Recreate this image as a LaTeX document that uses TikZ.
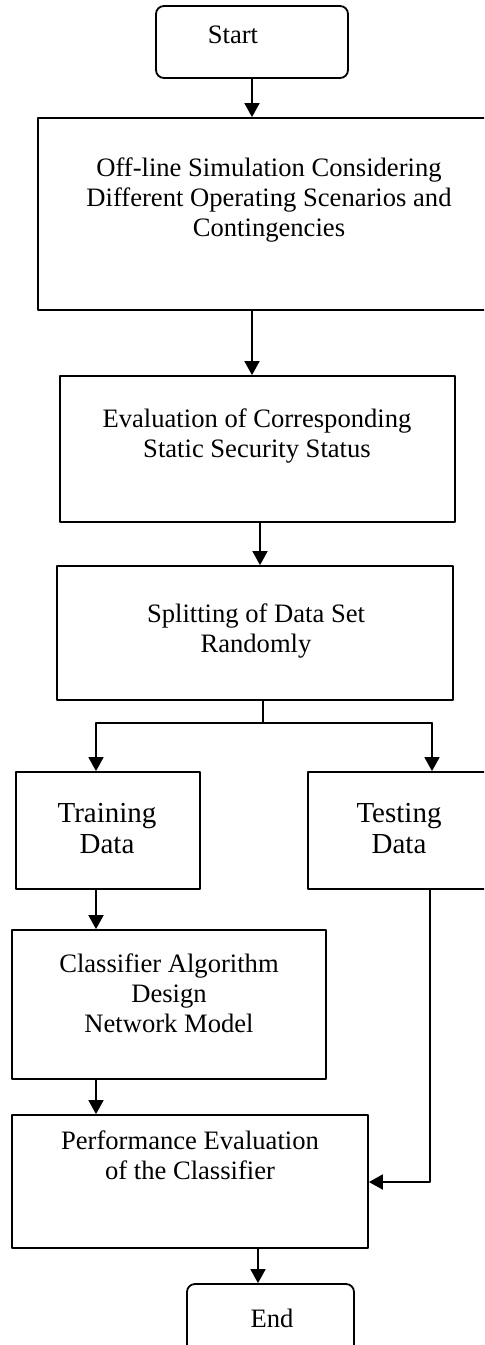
\documentclass[tikz,border=0pt]{standalone}
\usepackage{fontspec}
\setmainfont{Liberation Serif}
\usetikzlibrary{arrows.meta}

\tikzset{
  block/.style={draw, line width=0.9pt, inner sep=0pt},
  term/.style={block, rounded corners=4pt},
  lbl/.style={inner sep=0pt, align=center, font=\fontsize{13.3pt}{15pt}\selectfont},
  biglbl/.style={lbl, font=\fontsize{14.5pt}{15.5pt}\selectfont},
  wire/.style={line width=0.9pt},
  flow/.style={wire, -{Triangle[length=7pt, width=7.5pt]}}
}

\begin{document}
\begin{tikzpicture}[line cap=round,line join=round,x=0.5pt,y=-0.5pt]
\useasboundingbox (0,0) rectangle (484,1345);
\clip (0,0) rectangle (484,1345);
% boxes
\node[term, minimum width=96pt, minimum height=36pt] (start) at (252,42) {};
\node[block, minimum width=231pt, minimum height=96pt] (sim) at (269,214) {};
\node[block, minimum width=197.5pt, minimum height=73pt] (eval) at (257.5,449) {};
\node[block, minimum width=198pt, minimum height=67pt] (split) at (255,633) {};
\node[block, minimum width=92pt, minimum height=58.5pt] (train) at (108,830.5) {};
\node[block, minimum width=91pt, minimum height=58.5pt] (test) at (399,830.5) {};
\node[block, minimum width=157pt, minimum height=74.5pt] (design) at (169,1004.5) {};
\node[block, minimum width=178pt, minimum height=66.5pt] (perf) at (190,1181.5) {};
\node[term, minimum width=83.5pt, minimum height=36pt] (end) at (270.5,1320) {};
% texts
\node[lbl] (starttxt) at (233,35) {Start};
\node[lbl] (simtxt) at (269,200) {Off-line Simulation Considering\\Different Operating Scenarios and\\Contingencies};
\node[lbl] (evaltxt) at (257,436) {Evaluation of Corresponding\\Static Security Status};
\node[lbl] (splittxt) at (256,631) {Splitting of Data Set\\Randomly};
\node[biglbl] (traintxt) at (107,829) {Training\\Data};
\node[biglbl] (testtxt) at (399,829) {Testing\\Data};
\node[lbl] (designtxt) at (169,993) {Classifier Algorithm\\Design\\Network Model};
\node[lbl] (perftxt) at (190,1155) {Performance Evaluation\\of the Classifier};
\node[lbl] (endtxt) at (272,1318) {End};
% routing points
\coordinate (fork) at (263,723);
\coordinate (lft) at (96,723);
\coordinate (rgt) at (432,723);
\coordinate (back) at (430,1182);
\coordinate (drop) at (258,1300);
% connectors
\draw[flow] (start.south) -- (start.south |- sim.north);
\draw[flow] (sim.south -| start.south) -- (start.south |- eval.north);
\draw[flow] ([xshift=1.25pt]eval.south) -- ([xshift=1.25pt]eval.south |- split.north);
\draw[wire] (split.south -| fork) -- (fork);
\draw[wire] (lft) -- (rgt);
\draw[flow] (lft) -- (lft |- train.north);
\draw[flow] (rgt) -- (rgt |- test.north);
\draw[flow] (train.south -| lft) -- (lft |- design.north);
\draw[flow] (design.south -| lft) -- (lft |- perf.north);
\draw[flow] (test.south -| back) -- (back) -- (back -| perf.east);
\draw[flow] (perf.south -| drop) -- (end.north -| drop);
\end{tikzpicture}
\end{document}
